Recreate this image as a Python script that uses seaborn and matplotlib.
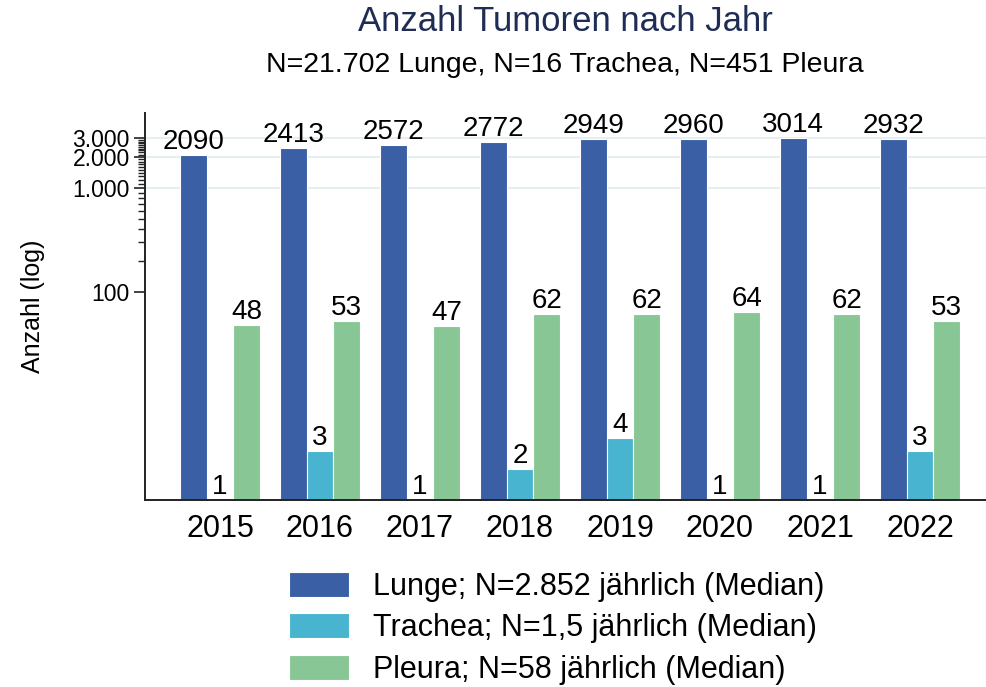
import numpy as np
import pandas as pd
import matplotlib
matplotlib.use('Agg')
import matplotlib.pyplot as plt
import seaborn as sns
from matplotlib.ticker import FixedLocator, FixedFormatter

# data
years = ['2015', '2016', '2017', '2018', '2019', '2020', '2021', '2022']
lunge = [2090, 2413, 2572, 2772, 2949, 2960, 3014, 2932]
trachea = [1, 3, 1, 2, 4, 1, 1, 3]
pleura = [48, 53, 47, 62, 62, 64, 62, 53]
series_names = ['Lunge; N=2.852 jährlich (Median)',
                'Trachea; N=1,5 jährlich (Median)',
                'Pleura; N=58 jährlich (Median)']
major_ticks = [100, 1000, 2000, 3000]
major_labels = ['100', '1.000', '2.000', '3.000']
grid_values = [1000, 2000, 3000]
title = 'Anzahl Tumoren nach Jahr'
subtitle = 'N=21.702 Lunge, N=16 Trachea, N=451 Pleura'

# colours
BLUE = '#3A5FA5'
CYAN = '#48B4CF'
GREEN = '#88C795'
NAVY = '#1F2D55'

sns.set_style('white')
plt.rcParams['font.family'] = ['Liberation Sans', 'DejaVu Sans']

df = pd.DataFrame({
    'Jahr': years * 3,
    'Anzahl': lunge + trachea + pleura,
    'Gruppe': [series_names[0]] * len(years) + [series_names[1]] * len(years)
              + [series_names[2]] * len(years),
})

fig = plt.figure(figsize=(9.86, 6.87), dpi=100)
ax = fig.add_axes([0.147, 0.272, 0.853, 0.5635])

sns.barplot(data=df, x='Jahr', y='Anzahl', hue='Gruppe',
            palette=[BLUE, CYAN, GREEN], saturation=1, width=0.8, ax=ax,
            edgecolor='white', linewidth=0.8, errorbar=None, legend=True)
ax.set_yscale('log')
ax.set_ylim(1, 5270)
ax.set_xlim(-0.75, 7.66)

for val in grid_values:
    ax.axhline(val, color='#E6EEF2', lw=1.5, zorder=0)

for cont in ax.containers:
    ax.bar_label(cont, fmt='%d', padding=0, fontsize=20, color='black')

minor = [v for v in list(range(200, 1000, 100)) + list(range(1100, 3000, 100))]
ax.yaxis.set_major_locator(FixedLocator(major_ticks))
ax.yaxis.set_major_formatter(FixedFormatter(major_labels))
ax.yaxis.set_minor_locator(FixedLocator(minor))
ax.yaxis.set_minor_formatter(FixedFormatter([''] * len(minor)))
ax.tick_params(axis='y', which='both', left=True, colors='#222222', labelcolor='black')
ax.tick_params(axis='y', which='major', length=8, width=1.2, labelsize=16.5, pad=3)
ax.tick_params(axis='y', which='minor', length=5, width=1.0)
ax.tick_params(axis='x', length=0, labelsize=22, labelcolor='black', pad=10)

ax.set_xlabel('')
ax.set_ylabel('Anzahl (log)', fontsize=18, color='black', labelpad=20)

for side in ['top', 'right']:
    ax.spines[side].set_visible(False)
for side in ['left', 'bottom']:
    ax.spines[side].set_color('#222222')
    ax.spines[side].set_linewidth(1.4)

fig.text(0.573, 0.968, title, ha='center', va='center', fontsize=25, color=NAVY)
fig.text(0.573, 0.905, subtitle, ha='center', va='center', fontsize=20.5, color='black')

handles, labels = ax.get_legend_handles_labels()
ax.legend_.remove()
fig.legend(handles, labels, loc='upper left', bbox_to_anchor=(0.278, 0.19),
           frameon=False, fontsize=22, handlelength=1.95, handleheight=0.88,
           handletextpad=0.8, labelspacing=0.38, borderpad=0,
           labelcolor='black')

fig.savefig('out.png', dpi=100)
